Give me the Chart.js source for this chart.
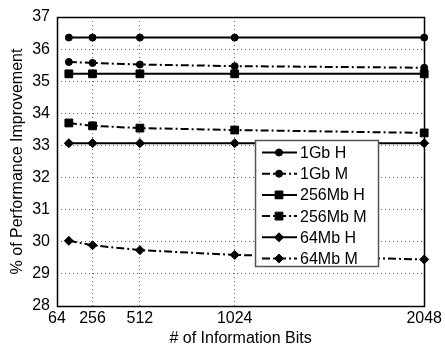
<!DOCTYPE html>
<html>
<head>
<meta charset="utf-8">
<script src="https://cdn.jsdelivr.net/npm/chart.js@4"></script>
<style>
html, body { margin: 0; padding: 0; background: #fff; }
</style>
</head>
<body>
<canvas id="grafico" width="445" height="345"></canvas>
<script>
// dati
var bits = [128, 256, 512, 1024, 2048];
var tickBits = [64, 256, 512, 1024, 2048];
var yTicks = [28, 29, 30, 31, 32, 33, 34, 35, 36, 37];
var names = ["1Gb H", "1Gb M", "256Mb H", "256Mb M", "64Mb H", "64Mb M"];
var gb1H = [36.36, 36.36, 36.36, 36.36, 36.36];
var gb1M = [35.60, 35.57, 35.52, 35.47, 35.42];
var mb256H = [35.23, 35.23, 35.23, 35.23, 35.23];
var mb256M = [33.70, 33.61, 33.54, 33.48, 33.39];
var mb64H = [33.07, 33.07, 33.07, 33.07, 33.07];
var mb64M = [30.03, 29.89, 29.74, 29.59, 29.45];

var serie = [gb1H, gb1M, mb256H, mb256M, mb64H, mb64M];
var stili = ["circle", "circle", "rect", "rect", "rectRot", "rectRot"];
var raggi = [3.5, 3.5, 5.5, 5.5, 4.5, 4.5];

Chart.defaults.font.family = "'Liberation Sans', Arial, sans-serif";
Chart.defaults.font.size = 16;
Chart.defaults.color = "#000";

var datasets = [];
for (let i = 0; i < serie.length; i++) {
    let tratteggio = (i % 2 == 1) ? [8, 3, 2, 3] : [];
    datasets.push({
        label: names[i],
        data: serie[i].map(function (v, j) { return { x: bits[j], y: v }; }),
        borderColor: "#000",
        backgroundColor: "#000",
        borderWidth: 2,
        borderDash: tratteggio,
        pointStyle: stili[i],
        pointRadius: raggi[i],
        pointBorderWidth: 1,
        tension: 0,
        fill: false,
        clip: false
    });
}

// riquadro attorno all'area del grafico
var bordoPlugin = {
    id: "bordo",
    afterDatasetsDraw: function (chart) {
        var a = chart.chartArea;
        var ctx = chart.ctx;
        ctx.save();
        ctx.strokeStyle = "#000";
        ctx.lineWidth = 1.5;
        ctx.strokeRect(Math.round(a.left) + 0.5, Math.round(a.top) + 0.5,
            Math.round(a.right - a.left), Math.round(a.bottom - a.top));
        ctx.restore();
    }
};

// legenda disegnata dentro il grafico
var legendaPlugin = {
    id: "legenda",
    afterDraw: function (chart) {
        var ctx = chart.ctx;
        var x0 = 255, y0 = 140, w = 123, h = 126;
        ctx.save();
        ctx.fillStyle = "#fff";
        ctx.fillRect(x0, y0, w, h);
        ctx.strokeStyle = "#555";
        ctx.lineWidth = 1.5;
        ctx.strokeRect(x0 + 0.5, y0 + 0.5, w, h);
        ctx.font = "16px 'Liberation Sans', Arial, sans-serif";
        ctx.textBaseline = "middle";
        chart.data.datasets.forEach(function (ds, i) {
            var y = 152.5 + i * 21.2;
            ctx.strokeStyle = "#000";
            ctx.lineWidth = 2;
            ctx.setLineDash(ds.borderDash);
            ctx.beginPath();
            ctx.moveTo(262, y);
            ctx.lineTo(297, y);
            ctx.stroke();
            ctx.setLineDash([]);
            ctx.fillStyle = "#000";
            ctx.lineWidth = 1;
            Chart.helpers.drawPoint(ctx, {
                pointStyle: ds.pointStyle,
                radius: ds.pointRadius,
                borderWidth: 1,
                rotation: 0
            }, 279, y);
            ctx.fillStyle = "#000";
            ctx.fillText(ds.label, 300, y + 1);
        });
        ctx.restore();
    }
};

var grafico = document.getElementById("grafico").getContext("2d");
var chart = new Chart(grafico, {
    type: "line",
    data: { datasets: datasets },
    options: {
        responsive: false,
        animation: false,
        devicePixelRatio: 1,
        layout: { padding: { top: 17, right: 18, left: 0, bottom: 0 } },
        plugins: {
            legend: { display: false },
            tooltip: { enabled: false }
        },
        scales: {
            x: {
                type: "linear",
                min: 64,
                max: 2048,
                afterBuildTicks: function (scale) {
                    scale.ticks = tickBits.map(function (v) { return { value: v }; });
                },
                afterFit: function (scale) { scale.height = 39; },
                ticks: {
                    padding: 3, maxRotation: 0, autoSkip: false,
                    callback: function (v) { return String(v); }
                },
                grid: { color: "#666", drawTicks: false, lineWidth: 1 },
                border: { display: false, dash: [1, 3] },
                title: { display: true, text: "# of Information Bits", padding: { top: 0, bottom: -2 }, font: { size: 16, lineHeight: 1 } }
            },
            y: {
                min: 28,
                max: 37,
                afterBuildTicks: function (scale) {
                    scale.ticks = yTicks.map(function (v) { return { value: v }; });
                },
                afterFit: function (scale) { scale.width = 57; },
                ticks: {
                    padding: 7,
                    callback: function (v) { return String(v); }
                },
                grid: { color: "#666", drawTicks: false, lineWidth: 1 },
                border: { display: false, dash: [1, 3] },
                title: { display: true, text: "% of Performance Improvement", padding: { top: 8, bottom: 0 }, font: { size: 16, lineHeight: 1.2 } }
            }
        }
    },
    plugins: [bordoPlugin, legendaPlugin]
});
</script>
</body>
</html>
